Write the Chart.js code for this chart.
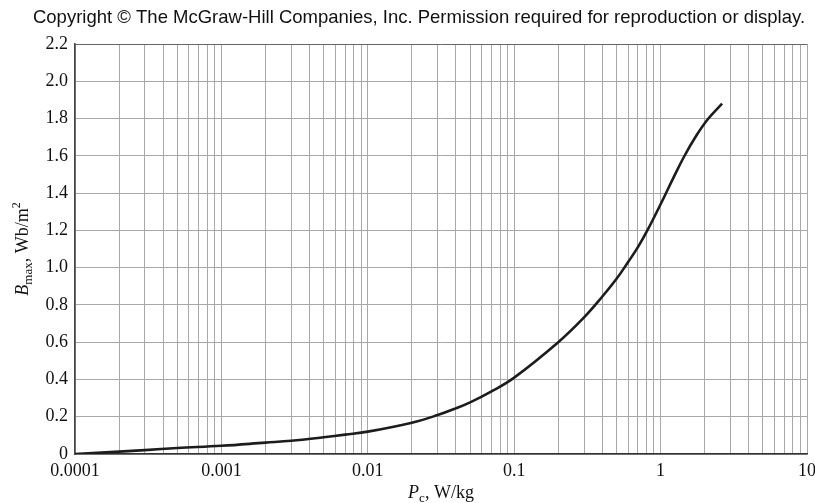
<!DOCTYPE html>
<html lang="en">
<head>
<meta charset="UTF-8">
<title>Core loss curve</title>
<style>
  body { margin: 0; background: #fff; }
  #chart { display: block; }
</style>
<script src="https://cdn.jsdelivr.net/npm/chart.js"></script>
</head>
<body>
<canvas id="chart" width="815" height="503"></canvas>
<script>
// curve: Pc (W/kg) vs Bmax (Wb/m^2)
const pcValues = [0.0001, 0.0002, 0.0003, 0.0005, 0.001, 0.002, 0.003, 0.005, 0.007,
  0.01, 0.02, 0.03, 0.04, 0.05, 0.07, 0.1, 0.2, 0.3, 0.4, 0.5, 0.6, 0.7, 0.8,
  1.0, 1.22, 1.445, 1.76, 2.12, 2.63];
const bmaxValues = [0.0, 0.013, 0.021, 0.032, 0.044, 0.061, 0.071, 0.090, 0.104,
  0.120, 0.168, 0.209, 0.245, 0.277, 0.336, 0.41, 0.60, 0.733, 0.845, 0.94, 1.03, 1.11, 1.19,
  1.34, 1.48, 1.595, 1.71, 1.80, 1.88];

const xDecades = [0.0001, 0.001, 0.01, 0.1, 1, 10];
const xTickLabels = ['0.0001', '0.001', '0.01', '0.1', '1', '10'];
const yTicks = [0, 0.2, 0.4, 0.6, 0.8, 1.0, 1.2, 1.4, 1.6, 1.8, 2.0, 2.2];
const yTickLabels = ['0', '0.2', '0.4', '0.6', '0.8', '1.0', '1.2', '1.4', '1.6', '1.8', '2.0', '2.2'];

const copyright = 'Copyright \u00A9 The McGraw-Hill Companies, Inc. Permission required for reproduction or display.';

// every 1..9 step inside each decade gets a grid line
const xGridValues = [];
for (let d = 0; d < xDecades.length - 1; d++) {
  for (let m = 1; m <= 9; m++) xGridValues.push(m * xDecades[d]);
}
xGridValues.push(xDecades[xDecades.length - 1]);

const serif = "'Liberation Serif', 'Times New Roman', serif";

// draws copyright line and the axis titles with sub/superscripts
const textPlugin = {
  id: 'textPlugin',
  afterDraw(chart) {
    const c = chart.ctx;
    const area = chart.chartArea;
    c.save();
    c.fillStyle = '#111';
    c.font = "18.5px 'Liberation Sans', Arial, sans-serif";
    c.textAlign = 'center';
    c.textBaseline = 'middle';
    c.fillText(copyright, 419, 18);

    function runs(parts) {
      let w = 0;
      parts.forEach(p => { c.font = p.font; p.w = c.measureText(p.t).width; w += p.w; });
      return w;
    }
    function drawRuns(parts, x0, y0) {
      let x = x0;
      c.textAlign = 'left';
      c.textBaseline = 'alphabetic';
      parts.forEach(p => { c.font = p.font; c.fillText(p.t, x, y0 + p.dy); x += p.w; });
    }

    // x title: Pc, W/kg
    const xParts = [
      { t: 'P', font: 'italic 18px ' + serif, dy: 0 },
      { t: 'c', font: '13px ' + serif, dy: 4 },
      { t: ', W/kg', font: '18px ' + serif, dy: 0 }
    ];
    const xw = runs(xParts);
    drawRuns(xParts, (area.left + area.right) / 2 - xw / 2, 498);

    // y title: Bmax, Wb/m2 (rotated)
    const yParts = [
      { t: 'B', font: 'italic 18px ' + serif, dy: 0 },
      { t: 'max', font: '13px ' + serif, dy: 4 },
      { t: ', Wb/m', font: '18px ' + serif, dy: 0 },
      { t: '2', font: '12px ' + serif, dy: -8 }
    ];
    const yw = runs(yParts);
    c.translate(28, (area.top + area.bottom) / 2);
    c.rotate(-Math.PI / 2);
    drawRuns(yParts, -yw / 2, 0);
    c.restore();
  }
};

const ctx = document.getElementById('chart').getContext('2d');
const chart = new Chart(ctx, {
  type: 'line',
  data: {
    datasets: [{
      data: pcValues.map((x, i) => ({ x: x, y: bmaxValues[i] })),
      borderColor: '#1c1c1c',
      borderWidth: 2.6,
      pointRadius: 0,
      tension: 0.4,
      fill: false
    }]
  },
  options: {
    responsive: false,
    devicePixelRatio: 1,
    animation: false,
    layout: { padding: { top: 44, right: 8, left: 0, bottom: 0 } },
    plugins: { legend: { display: false }, tooltip: { enabled: false } },
    scales: {
      x: {
        type: 'logarithmic',
        min: 0.0001,
        max: 10,
        afterBuildTicks: (scale) => { scale.ticks = xGridValues.map(v => ({ value: v })); },
        afterFit: (scale) => { scale.height = 49; scale.paddingLeft = 0; scale.paddingRight = 0; },
        ticks: {
          autoSkip: false,
          maxRotation: 0,
          padding: 6,
          color: '#111',
          font: { family: serif, size: 18 },
          callback: (v) => {
            const i = xDecades.findIndex(d => Math.abs(d - v) / d < 1e-6);
            return i >= 0 ? xTickLabels[i] : '';
          }
        },
        grid: { color: '#a8a8a8', lineWidth: 1, drawTicks: false },
        border: { color: '#333', width: 1.6 }
      },
      y: {
        min: 0,
        max: 2.2,
        afterBuildTicks: (scale) => { scale.ticks = yTicks.map(v => ({ value: v })); },
        afterFit: (scale) => { scale.width = 75; scale.paddingTop = 0; scale.paddingBottom = 0; },
        ticks: {
          padding: 7,
          color: '#111',
          font: { family: serif, size: 18 },
          callback: (v) => {
            const i = yTicks.findIndex(t => Math.abs(t - v) < 1e-6);
            return i >= 0 ? yTickLabels[i] : '';
          }
        },
        grid: {
          color: (c) => (c.tick && c.tick.value >= 2.2 - 1e-6) ? '#666' : '#a8a8a8',
          lineWidth: 1,
          drawTicks: false
        },
        border: { color: '#444', width: 1.6 }
      }
    }
  },
  plugins: [textPlugin]
});
</script>
</body>
</html>
